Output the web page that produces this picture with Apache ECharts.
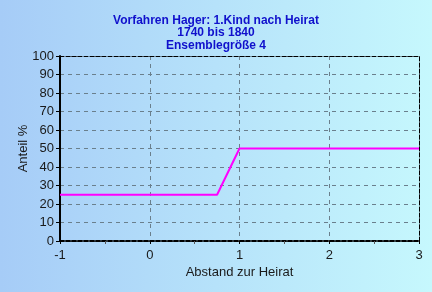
<!DOCTYPE html>
<html><head><meta charset="utf-8">
<script src="https://cdn.jsdelivr.net/npm/echarts@6/dist/echarts.min.js"></script>
<style>html,body{margin:0;padding:0;}#c{width:432px;height:292px;}</style>
</head><body><div id="c"></div>
<script>
const titleLines = ['Vorfahren Hager: 1.Kind nach Heirat', '1740 bis 1840', 'Ensemblegröße 4'];
const xName = 'Abstand zur Heirat';
const yName = 'Anteil %';
const xValues = [-1, -0.75, -0.5, -0.25, 0, 0.25, 0.5, 0.75, 1, 1.25, 1.5, 1.75, 2, 2.25, 2.5, 2.75, 3];
const yValues = [25, 25, 25, 25, 25, 25, 25, 25, 50, 50, 50, 50, 50, 50, 50, 50, 50];

const chart = echarts.init(document.getElementById('c'), null, {renderer: 'canvas'});
const labelFont = {fontFamily: 'Liberation Sans, Arial, sans-serif', fontSize: 12, color: '#1a1a1a'};
chart.setOption({
  animation: false,
  backgroundColor: new echarts.graphic.LinearGradient(0, 0, 1, 0, [
    {offset: 0, color: '#a6ccf7'}, {offset: 1, color: '#c6f8fd'}
  ]),
  title: {
    text: titleLines.join('\n'), left: 'center', top: 9,
    textStyle: {fontFamily: 'Liberation Sans, Arial, sans-serif', fontSize: 12, fontWeight: 'bold', color: '#1010cc', lineHeight: 12.5}
  },
  grid: {left: 60, right: 13, top: 56, bottom: 51},
  xAxis: [{
    type: 'value', min: -1, max: 3, interval: 1,
    name: xName, nameLocation: 'middle', nameGap: 25, nameMoveOverlap: false,
    nameTextStyle: Object.assign({}, labelFont, {fontSize: 13}),
    axisLine: {show: true, onZero: false, lineStyle: {color: '#000', width: 2, type: [4, 2]}},
    axisTick: {show: true, length: 3, lineStyle: {color: '#000'}},
    minorTick: {show: true, splitNumber: 2, length: 3, lineStyle: {color: '#555'}},
    axisLabel: Object.assign({}, labelFont, {fontSize: 13, margin: 8}),
    splitLine: {show: true, lineStyle: {color: '#6a7f8c', type: [4, 4]}}
  }, {
    type: 'value', min: -1, max: 3, position: 'top',
    axisLine: {show: true, onZero: false, lineStyle: {color: '#000', width: 1, type: [4, 2]}},
    axisTick: {show: false}, axisLabel: {show: false}, splitLine: {show: false}
  }],
  yAxis: [{
    type: 'value', min: 0, max: 100, interval: 10,
    name: yName, nameLocation: 'middle', nameGap: 30, nameMoveOverlap: false,
    nameTextStyle: Object.assign({}, labelFont, {fontSize: 13}),
    axisLine: {show: true, onZero: false, lineStyle: {color: '#000', width: 2}},
    axisTick: {show: true, length: 4, lineStyle: {color: '#000'}},
    axisLabel: Object.assign({}, labelFont, {fontSize: 13, margin: 6}),
    splitLine: {show: true, lineStyle: {color: '#6a7f8c', type: [4, 4]}}
  }, {
    type: 'value', min: 0, max: 100, position: 'right',
    axisLine: {show: true, onZero: false, lineStyle: {color: '#000', width: 1, type: [4, 2]}},
    axisTick: {show: false}, axisLabel: {show: false}, splitLine: {show: false}
  }],
  series: [{
    type: 'line', xAxisIndex: 0, yAxisIndex: 0,
    data: xValues.map((x, i) => [x, yValues[i]]),
    showSymbol: false, symbol: 'none',
    lineStyle: {color: '#ff00ff', width: 2}
  }]
});
</script></body></html>
